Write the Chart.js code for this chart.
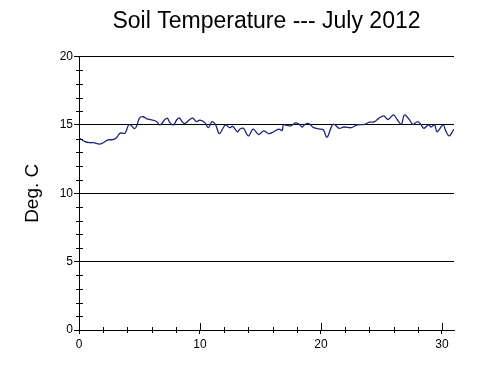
<!DOCTYPE html>
<html>
<head>
<meta charset="utf-8">
<script src="https://cdn.jsdelivr.net/npm/chart.js@4/dist/chart.umd.min.js"></script>
<style>
  html, body { margin: 0; padding: 0; background: #fff; }
  #wrap { width: 500px; height: 371px; }
</style>
</head>
<body>
<div id="wrap"><canvas id="soilChart" width="500" height="371"></canvas></div>
<script>
// data
const days = [0, 0.5, 0.9, 1.2, 1.7, 2.0, 2.4, 2.8, 3.1, 3.4, 3.8, 4.0, 4.1, 4.3, 4.6, 4.8,
  5.0, 5.3, 5.6, 6.0, 6.4, 6.7, 7.1, 7.3, 7.5, 7.8, 8.1, 8.3, 8.7, 9.1, 9.4, 9.7,
  10.0, 10.4, 10.7, 11.0, 11.3, 11.6, 12.1, 12.45, 12.7, 13.1, 13.3, 13.6, 14.0, 14.4, 14.85,
  15.27, 15.7, 16.1, 16.5, 16.8, 16.9, 17.5, 17.9, 18.2, 18.45, 18.7, 19.0, 19.4, 19.9,
  20.2, 20.5, 20.9, 21.1, 21.5, 21.9, 22.5, 23.0, 23.6, 24.0, 24.4, 24.8, 25.2, 25.55,
  26.0, 26.3, 26.65, 26.9, 27.3, 27.6, 28.0, 28.3, 28.5, 28.9, 29.1, 29.4, 29.6,
  30.1, 30.3, 30.6, 31.0];
const temps = [14.05, 13.78, 13.7, 13.7, 13.6, 13.7, 13.9, 13.93, 14.07, 14.4, 14.4, 14.8, 15.0, 14.98, 14.73, 15.0,
  15.5, 15.6, 15.45, 15.37, 15.25, 15.0, 15.4, 15.5, 15.2, 15.0, 15.4, 15.5, 15.1, 15.35, 15.5, 15.25,
  15.35, 15.17, 14.8, 15.24, 15.0, 14.37, 15.0, 14.8, 14.9, 14.5, 14.7, 14.75, 14.2, 14.7, 14.3,
  14.56, 14.37, 14.5, 14.7, 14.6, 15.0, 14.93, 15.15, 15.05, 14.85, 15.05, 15.1, 14.8, 14.7,
  14.65, 14.1, 14.93, 15.05, 14.75, 14.85, 14.8, 15.0, 15.05, 15.2, 15.22, 15.5, 15.66, 15.4,
  15.73, 15.4, 15.05, 15.73, 15.4, 15.05, 15.25, 15.0, 14.75, 15.0, 14.85, 15.0, 14.5,
  15.0, 14.6, 14.2, 14.7];
const xTicks = [0, 10, 20, 30];
const yTicks = [0, 5, 10, 15, 20];
const xMinor = [2, 4, 6, 8, 12, 14, 16, 18, 22, 24, 26, 28];
const yMinor = [1, 2, 3, 4, 6, 7, 8, 9, 11, 12, 13, 14, 16, 17, 18, 19];

Chart.defaults.font.family = "'Liberation Sans', Arial, sans-serif";
Chart.defaults.color = '#000';

// small tick marks crossing the axes
const minorTicks = {
  id: 'minorTicks',
  afterDraw(chart) {
    const ctx = chart.ctx;
    const x = chart.scales.x, y = chart.scales.y;
    const x0 = x.getPixelForValue(0), y0 = y.getPixelForValue(0);
    ctx.save();
    ctx.strokeStyle = '#000';
    ctx.lineWidth = 1;
    ctx.beginPath();
    xMinor.forEach(v => {
      const px = Math.round(x.getPixelForValue(v)) + 0.5;
      ctx.moveTo(px, y0 - 3); ctx.lineTo(px, y0 + 3);
    });
    xTicks.forEach(v => {
      const px = Math.round(x.getPixelForValue(v)) + 0.5;
      ctx.moveTo(px, y0 - 7); ctx.lineTo(px, y0);
    });
    yMinor.forEach(v => {
      const py = Math.round(y.getPixelForValue(v)) + 0.5;
      ctx.moveTo(x0 - 3, py); ctx.lineTo(x0 + 4, py);
    });
    ctx.stroke();
    ctx.restore();
  }
};

new Chart(document.getElementById('soilChart'), {
  type: 'line',
  data: {
    datasets: [{
      data: days.map((d, i) => ({ x: d, y: temps[i] })),
      borderColor: '#23237e',
      borderWidth: 1.3,
      pointRadius: 0,
      tension: 0.35,
      fill: false
    }]
  },
  options: {
    responsive: false,
    animation: false,
    layout: { padding: { left: 0, right: 46, top: 0, bottom: 0 } },
    plugins: {
      legend: { display: false },
      tooltip: { enabled: false },
      title: {
        display: true,
        fullSize: false,
        text: 'Soil Temperature --- July 2012',
        font: { size: 23, weight: 'normal' },
        color: '#000',
        padding: { top: 8, bottom: 21 }
      }
    },
    scales: {
      x: {
        type: 'linear',
        min: 0,
        max: 31,
        afterBuildTicks: s => { s.ticks = xTicks.map(v => ({ value: v })); },
        afterFit: s => { s.height = 41; },
        grid: { drawOnChartArea: false, color: '#000', tickColor: '#000', tickLength: 4 },
        border: { display: true, color: '#000', width: 1 },
        ticks: { font: { size: 12 }, color: '#000', padding: 3, maxRotation: 0 }
      },
      y: {
        min: 0,
        max: 20,
        afterBuildTicks: s => { s.ticks = yTicks.map(v => ({ value: v })); },
        afterFit: s => { s.width = 79; },
        grid: { color: '#000', tickColor: '#000', tickLength: 5 },
        border: { display: true, color: '#000', width: 1 },
        ticks: { font: { size: 12 }, color: '#000', padding: 1 },
        title: {
          display: true,
          text: 'Deg. C',
          font: { size: 19 },
          color: '#000',
          padding: { top: 21, bottom: 0 }
        }
      }
    }
  },
  plugins: [minorTicks]
});
</script>
</body>
</html>
